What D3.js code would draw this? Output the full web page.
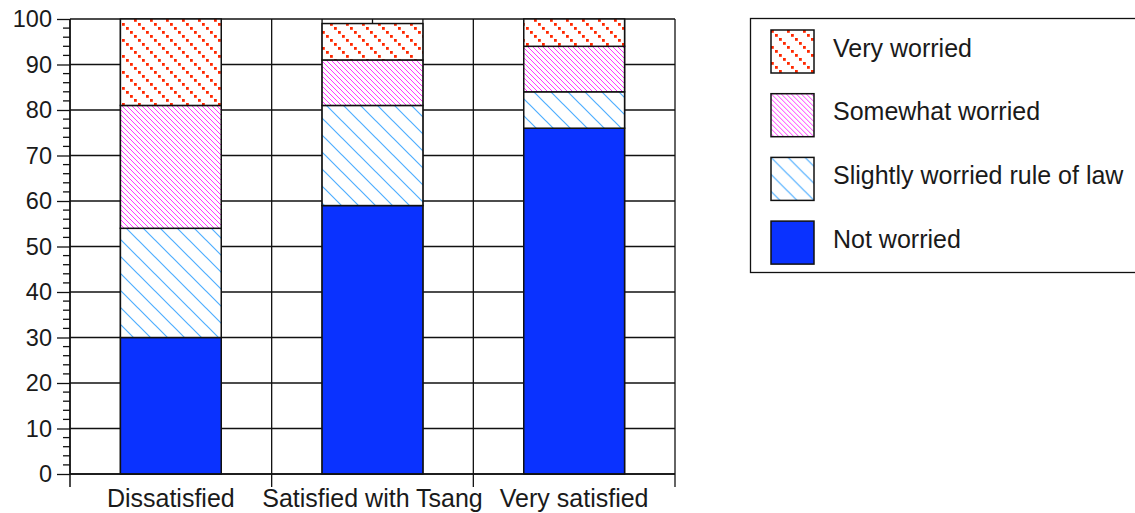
<!DOCTYPE html>
<html>
<head>
<meta charset="utf-8">
<script src="https://cdn.jsdelivr.net/npm/d3@7"></script>
<style>
body{margin:0;background:#fff}
text{font-family:"Liberation Sans",Arial,sans-serif;fill:#1a1a1a}
</style>
</head>
<body>
<script>
var margin={top:19,bottom:39,left:70,right:460},
	WIDTH=1135-margin.left-margin.right,
	HEIGHT=513-margin.top-margin.bottom

// data
var categories=["Dissatisfied","Satisfied with Tsang","Very satisfied"]
var seriesNames=["Not worried","Slightly worried rule of law","Somewhat worried","Very worried"]
var notWorried=[30,59,76]
var slightlyWorried=[24,22,8]
var somewhatWorried=[27,10,10]
var veryWorried=[19,8,6]
var yTicks=[0,10,20,30,40,50,60,70,80,90,100]

var fills=["#0a32ff","url(#pBlue)","url(#pMagenta)","url(#pRed)"]

var rows=categories.map(function(c,i){
	return {cat:c,"Not worried":notWorried[i],"Slightly worried rule of law":slightlyWorried[i],
		"Somewhat worried":somewhatWorried[i],"Very worried":veryWorried[i]}
})
var stacked=d3.stack().keys(seriesNames)(rows)

var svg=d3.select('body').append('svg')
	.attr('width',1135).attr('height',513)

// hatch patterns
var defs=svg.append('defs')
function hatch(id,size,color,w){
	var p=defs.append('pattern').attr('id',id).attr('patternUnits','userSpaceOnUse')
		.attr('width',size).attr('height',size)
	p.append('rect').attr('width',size).attr('height',size).attr('fill','#fff')
	p.append('path')
		.attr('d','M0,0L'+size+','+size+'M-2,'+(size-2)+'L2,'+(size+2)+'M'+(size-2)+',-2L'+(size+2)+',2')
		.attr('stroke',color).attr('stroke-width',w)
}
hatch('pBlue',17,'#4eaeff',1.2)
hatch('pMagenta',5,'#ff38ff',1)
var pr=defs.append('pattern').attr('id','pRed').attr('patternUnits','userSpaceOnUse')
	.attr('width',16).attr('height',16)
pr.append('rect').attr('width',16).attr('height',16).attr('fill','#fff')
d3.range(4).forEach(function(k){
	pr.append('rect').attr('x',k*4).attr('y',k*4).attr('width',2.8).attr('height',2.8).attr('fill','#ff2800')
})

var g=svg.append('g').attr('transform','translate('+margin.left+','+margin.top+')')

var xScale=d3.scaleBand().domain(categories).range([0,WIDTH]).paddingInner(0.5).paddingOuter(0.25)
var yScale=d3.scaleLinear().domain([0,100]).range([HEIGHT,0])

// grid
var quarter=xScale.step()/4
g.append('g').selectAll('line').data(d3.range(0,13)).enter().append('line')
	.attr('x1',function(d){return d*quarter}).attr('x2',function(d){return d*quarter})
	.attr('y1',0).attr('y2',HEIGHT)
	.attr('stroke','#111').attr('stroke-width',1.3)
g.append('g').selectAll('line').data(yTicks).enter().append('line')
	.attr('x1',0).attr('x2',WIDTH)
	.attr('y1',function(d){return yScale(d)}).attr('y2',function(d){return yScale(d)})
	.attr('stroke','#111').attr('stroke-width',1.3)

// bars
g.selectAll('.layer').data(stacked).enter().append('g')
	.attr('fill',function(d,i){return fills[i]})
	.selectAll('rect').data(function(d){return d}).enter().append('rect')
	.attr('x',function(d){return xScale(d.data.cat)})
	.attr('width',xScale.bandwidth())
	.attr('y',function(d){return yScale(d[1])})
	.attr('height',function(d){return yScale(d[0])-yScale(d[1])})
	.attr('stroke','#111').attr('stroke-width',1.5)

// y axis
var yAxis=d3.axisLeft(yScale).tickValues(yTicks).tickSize(13).tickPadding(5)
var yGuide=g.append('g').call(yAxis)
yGuide.select('.domain').remove()
yGuide.selectAll('text').style('font-size','23.5px').attr('fill','#1a1a1a')
yGuide.selectAll('line').attr('stroke','#111').attr('stroke-width',1.3)
g.append('g').selectAll('line').data(d3.range(0,101,2).filter(function(d){return d%10!==0})).enter().append('line')
	.attr('x1',-7).attr('x2',0)
	.attr('y1',function(d){return yScale(d)}).attr('y2',function(d){return yScale(d)})
	.attr('stroke','#111').attr('stroke-width',1.3)
g.append('line').attr('x1',0).attr('x2',0).attr('y1',0).attr('y2',HEIGHT+13)
	.attr('stroke','#111').attr('stroke-width',1.5)

// x axis
g.append('line').attr('x1',0).attr('x2',WIDTH).attr('y1',HEIGHT).attr('y2',HEIGHT)
	.attr('stroke','#111').attr('stroke-width',1.5)
g.append('g').selectAll('line').data(categories).enter().append('line')
	.attr('x1',function(d){return xScale(d)+xScale.bandwidth()+quarter})
	.attr('x2',function(d){return xScale(d)+xScale.bandwidth()+quarter})
	.attr('y1',HEIGHT).attr('y2',HEIGHT+13)
	.attr('stroke','#111').attr('stroke-width',1.3)
g.append('g').selectAll('text').data(categories).enter().append('text')
	.text(function(d){return d})
	.attr('x',function(d){return xScale(d)+xScale.bandwidth()/2})
	.attr('y',HEIGHT+33)
	.attr('text-anchor','middle')
	.style('font-size','25px')

// legend
var legend=svg.append('g').attr('transform','translate(750,18)')
legend.append('rect').attr('x',0.5).attr('y',0.5).attr('width',420).attr('height',254)
	.attr('fill','none').attr('stroke','#111').attr('stroke-width',1.3)
var legendOrder=seriesNames.slice().reverse()
var items=legend.selectAll('.item').data(legendOrder).enter().append('g')
	.attr('transform',function(d,i){return 'translate(21,'+(12+i*63.7)+')'})
items.append('rect').attr('width',43).attr('height',43)
	.attr('fill',function(d){return fills[seriesNames.indexOf(d)]})
	.attr('stroke','#111').attr('stroke-width',1.5)
items.append('text').text(function(d){return d})
	.attr('x',62).attr('y',26.5)
	.style('font-size','25px')
</script>
</body>
</html>
